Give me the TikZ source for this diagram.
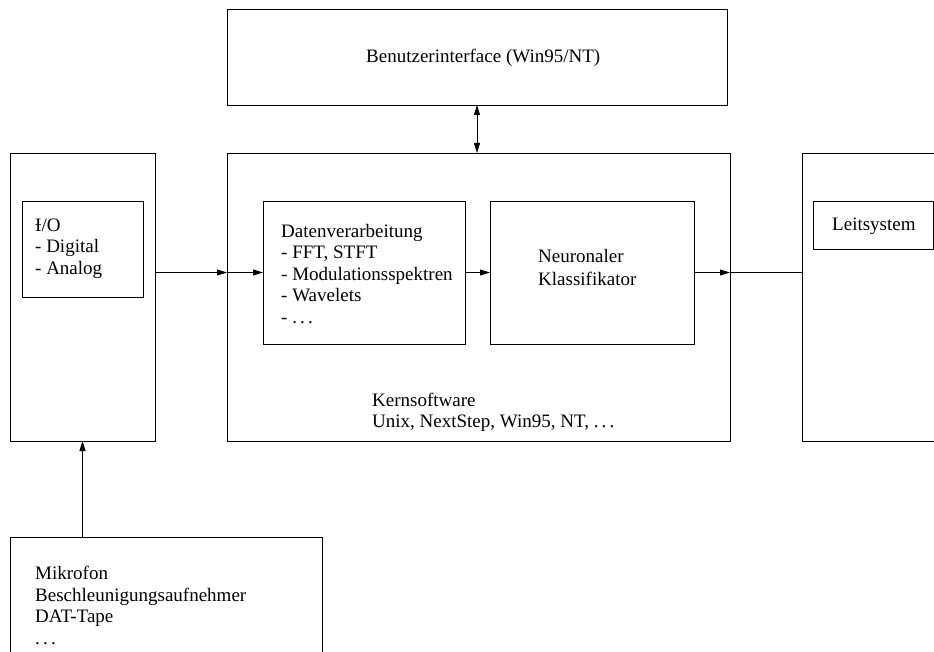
\documentclass[tikz,border=0pt]{standalone}
\usepackage{fontspec}
\setmainfont{Liberation Serif}
\usetikzlibrary{arrows.meta,positioning}

\begin{document}
\begin{tikzpicture}[x=1pt,y=-1pt,
  every node/.style={font=\fontsize{19}{21.5}\selectfont},
  box/.style={draw,line width=0.9pt,inner sep=0pt,outer sep=0pt,anchor=north west},
  txt/.style={align=left,inner sep=0pt,anchor=north west},
  arr/.style={line width=0.9pt,-{Stealth[length=10pt,width=6pt,inset=0pt]}},
  arrboth/.style={line width=0.9pt,{Stealth[length=10pt,width=6pt,inset=0pt]}-{Stealth[length=10pt,width=6pt,inset=0pt]}}]
\useasboundingbox (0,0) rectangle (934,652);
\clip (0,0) rectangle (934,652);
% boxes
\node[box,minimum width=500pt,minimum height=96pt] (ui) at (227,9) {};
\node[box,minimum width=503pt,minimum height=288pt] (kern) at (227,153) {};
\node[box,minimum width=145pt,minimum height=288pt] (io) at (10,153) {};
\node[box,minimum width=121pt,minimum height=96pt] (ioin) at (22,201) {};
\node[box,minimum width=202pt,minimum height=143pt] (dat) at (263,201) {};
\node[box,minimum width=204pt,minimum height=143pt] (nk) at (490,201) {};
\node[box,minimum width=200pt,minimum height=288pt] (ls) at (802,153) {};
\node[box,minimum width=120pt,minimum height=48pt] (lsin) at (813,201) {};
\node[box,minimum width=312pt,minimum height=200pt] (sens) at (10,537) {};
% texts
\node[txt,anchor=base west] (uitxt) at (366,63) {Benutzerinterface (Win95/NT)};
\node[txt] (iotxt) at (35,218.5) {Ɨ/O\\- Digital\\- Analog};
\node[txt] (dattxt) at (281,224) {Datenverarbeitung\\- FFT, STFT\\- Modulationsspektren\\- Wavelets\\- .\,.\,.};
\node[txt,font=\fontsize{19}{23}\selectfont] (nktxt) at (538,249) {Neuronaler\\Klassifikator};
\node[txt] (kerntxt) at (372,392.5) {Kernsoftware\\Unix, NextStep, Win95, NT, .\,.\,.};
\node[txt,anchor=base west] (lstxt) at (832,231) {Leitsystem};
\node[txt] (senstxt) at (35,566) {Mikrofon\\Beschleunigungsaufnehmer\\DAT-Tape\\.\,.\,.};
% connectors
\draw[arrboth] (ui.south) -- (ui.south |- kern.north);
\draw[arr] (io.east |- dat.west) -- (kern.west |- dat.west);
\draw[arr] (kern.west |- dat.west) -- (dat.west);
\draw[arr] (dat.east) -- (nk.west);
\draw[arr] (nk.east) -- (kern.east |- nk.east);
\draw[line width=0.9pt] (kern.east |- nk.east) -- (ls.west |- nk.east);
\draw[arr] (io.south |- sens.north) -- (io.south);
\end{tikzpicture}
\end{document}
